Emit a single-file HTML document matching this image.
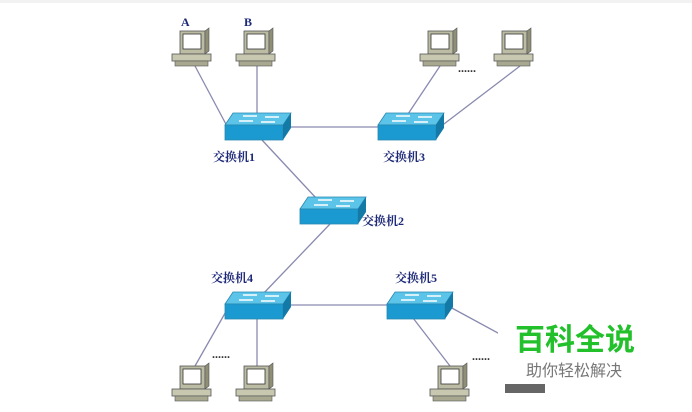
<!DOCTYPE html>
<html><head><meta charset="utf-8"><style>
html,body{margin:0;padding:0;background:#fff;width:692px;height:412px;overflow:hidden}
svg{display:block}
.l{font-family:"Liberation Serif","Noto Serif CJK SC",serif;font-weight:bold;font-size:12px;fill:#1e2a78}
</style></head><body>
<svg width="692" height="412" viewBox="0 0 692 412">
<defs>
<g id="pc">
 <rect x="8" y="0" width="25" height="23" fill="#bcbca4" stroke="#555" stroke-width="0.8"/>
 <rect x="11" y="3" width="18" height="15" fill="#fff" stroke="#333" stroke-width="0.8"/>
 <polygon points="33,0 37,-3 37,20 33,23" fill="#8f8f78" stroke="#555" stroke-width="0.6"/>
 <rect x="0" y="23" width="39" height="7" fill="#c8c8b0" stroke="#555" stroke-width="0.8"/>
 <rect x="3" y="30" width="33" height="5" fill="#a8a890" stroke="#555" stroke-width="0.6"/>
</g>
<g id="sw">
 <polygon points="8,0 66,0 58,12 0,12" fill="#5bc4e8" stroke="#2a88b0" stroke-width="0.8"/>
 <rect x="0" y="12" width="58" height="15" fill="#1a9ad0" stroke="#2a88b0" stroke-width="0.8"/>
 <polygon points="58,12 66,0 66,15 58,27" fill="#137aa8"/>
 <path d="M18,3 h14 M40,4 h14 M14,8 h14 M36,9 h14" stroke="#fff" stroke-width="1.5"/>
</g>
</defs>
<rect x="0" y="0" width="692" height="3" fill="#f2f2f2"/>
<g stroke="#8a8ab0" stroke-width="1.3" fill="none">
 <line x1="195" y1="66" x2="228" y2="128"/>
 <line x1="257" y1="66" x2="257" y2="115"/>
 <line x1="290" y1="127" x2="380" y2="127"/>
 <line x1="440" y1="66" x2="408" y2="114"/>
 <line x1="520" y1="66" x2="440" y2="127"/>
 <line x1="262" y1="140" x2="316" y2="198"/>
 <line x1="330" y1="224" x2="262" y2="295"/>
 <line x1="288" y1="305" x2="390" y2="305"/>
 <line x1="228" y1="308" x2="195" y2="366"/>
 <line x1="257" y1="318" x2="257" y2="366"/>
 <line x1="413" y1="318" x2="450" y2="366"/>
 <line x1="450" y1="307" x2="520" y2="345"/>
</g>
<use href="#pc" x="172" y="31"/>
<use href="#pc" x="236" y="31"/>
<use href="#pc" x="420" y="31"/>
<use href="#pc" x="494" y="31"/>
<use href="#pc" x="172" y="366"/>
<use href="#pc" x="236" y="366"/>
<use href="#pc" x="430" y="366"/>
<use href="#sw" x="225" y="113"/>
<use href="#sw" x="378" y="113"/>
<use href="#sw" x="300" y="197"/>
<use href="#sw" x="225" y="292"/>
<use href="#sw" x="387" y="292"/>
<text class="l" x="181" y="26">A</text>
<text class="l" x="244" y="26">B</text>
<text class="l" x="213" y="161">交换机1</text>
<text class="l" x="383" y="161">交换机3</text>
<text class="l" x="362" y="225">交换机2</text>
<text class="l" x="211" y="282">交换机4</text>
<text class="l" x="395" y="282">交换机5</text>
<text x="458" y="72" font-size="12" font-weight="bold" fill="#333">......</text>
<text x="212" y="358" font-size="12" font-weight="bold" fill="#333">......</text>
<text x="472" y="360" font-size="12" font-weight="bold" fill="#333">......</text>
<rect x="498" y="315" width="165" height="75" fill="#fff"/>
<rect x="505" y="384" width="40" height="9" fill="#666"/>
<text x="515" y="350" font-family="'Noto Sans CJK SC',sans-serif" font-size="30" font-weight="bold" fill="#22c02a">百科全说</text>
<text x="526" y="376" font-family="'Noto Sans CJK SC',sans-serif" font-size="16" fill="#777">助你轻松解决</text>
</svg>
</body></html>
